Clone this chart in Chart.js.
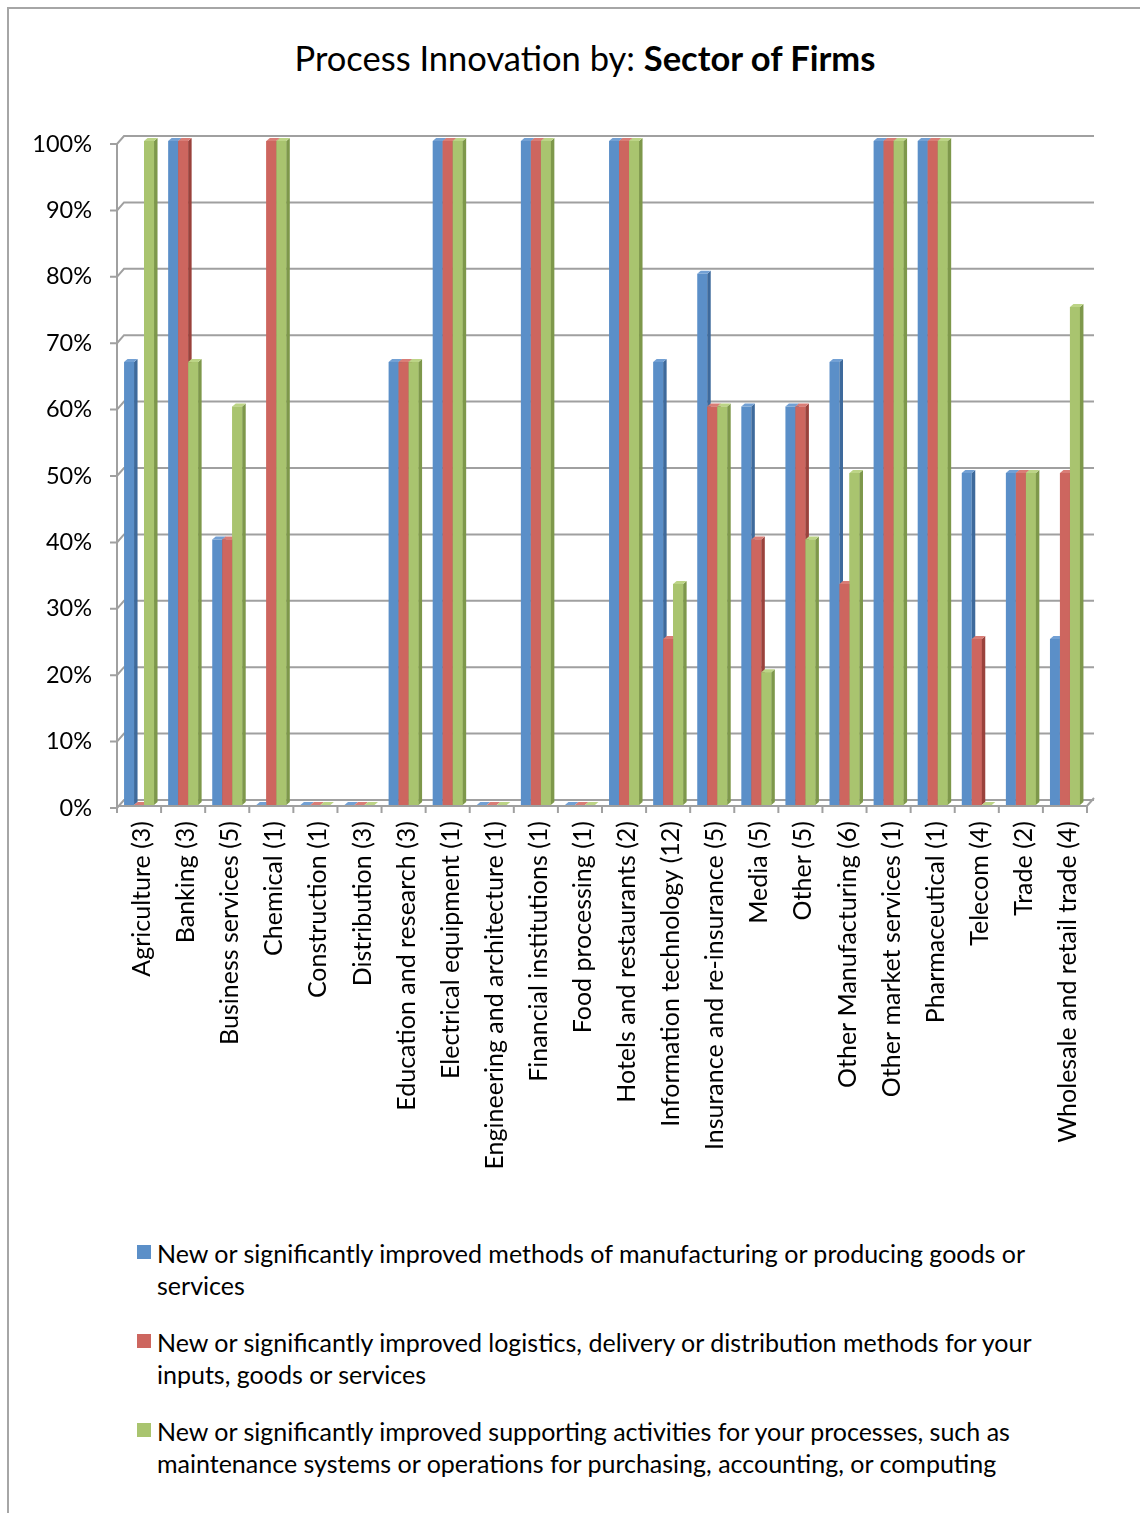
<!DOCTYPE html>
<html>
<head>
<meta charset="utf-8">
<title>Process Innovation by: Sector of Firms</title>
<script src="https://cdn.jsdelivr.net/npm/chart.js@4.4.1/dist/chart.umd.min.js"></script>
<style>
  html, body { margin: 0; padding: 0; background: #fff; }
  body { width: 1140px; height: 1513px; position: relative; overflow: hidden; font-family: Lato, "Open Sans", sans-serif; color: #000; }
  #frame { position: absolute; left: 7px; top: 7px; width: 1200px; height: 1600px; border: 2px solid #a6a6a6; box-sizing: border-box; }
  #title { position: absolute; left: 0; top: 37px; width: 1170px; text-align: center; font-size: 34.5px; line-height: 42px; }
  #wrap { position: absolute; left: 0; top: 0; width: 1140px; height: 1200px; }
  #legend { position: absolute; left: 137px; top: 1237px; }
  .item { position: relative; padding-left: 20px; font-size: 25px; line-height: 32px; margin-bottom: 25px; white-space: nowrap; }
  .swatch { position: absolute; left: 0; top: 8px; width: 14px; height: 14px; }
</style>
</head>
<body>
<div id="frame"></div>
<div id="title">Process Innovation by: <b>Sector of Firms</b></div>
<div id="wrap"><canvas id="chart" width="1140" height="1200"></canvas></div>
<div id="legend"></div>
<script>
/********************
 * Data
 ********************/
const categories = [
  "Agriculture (3)", "Banking (3)", "Business services (5)", "Chemical (1)",
  "Construction (1)", "Distribution (3)", "Education and research (3)",
  "Electrical equipment (1)", "Engineering and architecture (1)",
  "Financial institutions (1)", "Food processing (1)", "Hotels and restaurants (2)",
  "Information technology (12)", "Insurance and re-insurance (5)", "Media (5)",
  "Other (5)", "Other Manufacturing (6)", "Other market services (1)",
  "Pharmaceutical (1)", "Telecom (4)", "Trade (2)", "Wholesale and retail trade (4)"
];

// legend lines, broken where they wrap
const seriesNames = [
  ["New or significantly improved methods of manufacturing or producing goods or", "services"],
  ["New or significantly improved logistics, delivery or distribution methods for your", "inputs, goods or services"],
  ["New or significantly improved supporting activities for your processes, such as", "maintenance systems or operations for purchasing, accounting, or computing"]
];

const manufacturing = [66.7, 100, 40, 0, 0, 0, 66.7, 100, 0, 100, 0, 100, 66.7, 80, 60, 60, 66.7, 100, 100, 50, 50, 25];
const logistics     = [0, 100, 40, 100, 0, 0, 66.7, 100, 0, 100, 0, 100, 25, 60, 40, 60, 33.3, 100, 100, 25, 50, 50];
const supporting    = [100, 66.7, 60, 100, 0, 0, 66.7, 100, 0, 100, 0, 100, 33.3, 60, 20, 40, 50, 100, 100, 0, 50, 75];

const yTicks = [0, 10, 20, 30, 40, 50, 60, 70, 80, 90, 100];

/********************
 * 3D look: walls, floor, bar sides and tops
 ********************/
const GRID = "#a0a0a0";
const WALL = { dx: 7, dy: -8 };   // depth of the back wall
const BAR = { dx: 3.5, dy: -3 };  // depth of a single bar
const FRONT = 3;                  // front edge sits a little below the bar plane

function barBox(bar){
  const { x, y, base, width } = bar.getProps(["x", "y", "base", "width"], true);
  return { l: x - width / 2, r: x + width / 2, y, base };
}

const frame3d = {
  id: "frame3d",
  beforeDatasetsDraw(chart){
    const { ctx, chartArea: a, scales: { y } } = chart;
    ctx.save();
    ctx.strokeStyle = GRID;
    ctx.lineWidth = 2;

    yTicks.forEach(v => {
      const yf = y.getPixelForValue(v) + FRONT;
      ctx.beginPath();
      ctx.moveTo(a.left - 7, yf);
      ctx.lineTo(a.left, yf);
      ctx.lineTo(a.left + WALL.dx, yf + WALL.dy);
      ctx.lineTo(a.right + WALL.dx, yf + WALL.dy);
      ctx.stroke();
    });

    const y0 = y.getPixelForValue(0) + 1;
    const yTop = y.getPixelForValue(100) + FRONT;
    ctx.beginPath();
    ctx.moveTo(a.left, yTop);
    ctx.lineTo(a.left, y0);
    ctx.lineTo(a.right, y0);
    ctx.lineTo(a.right + WALL.dx, y0 + WALL.dy);
    ctx.stroke();

    // category ticks under the floor
    const n = categories.length;
    for(let i = 0; i <= n; i++){
      const xb = a.left + (a.right - a.left) * i / n;
      ctx.beginPath();
      ctx.moveTo(xb, y0);
      ctx.lineTo(xb, y0 + 7);
      ctx.stroke();
    }
    ctx.restore();
  },

  // paint each cluster back to front: side + top of a bar, then the next bar's face over it
  afterDatasetsDraw(chart){
    const { ctx } = chart;
    const metas = chart.data.datasets.map((_, i) => chart.getDatasetMeta(i));
    ctx.save();
    categories.forEach((_, ci) => {
      metas.forEach((meta, di) => {
        const ds = chart.data.datasets[di];
        const b = barBox(meta.data[ci]);

        if(di > 0){
          ctx.fillStyle = ds.backgroundColor;
          ctx.fillRect(b.l, b.y, b.r - b.l, b.base - b.y);
        }

        ctx.fillStyle = ds.sideColor;
        ctx.beginPath();
        ctx.moveTo(b.r, b.y);
        ctx.lineTo(b.r + BAR.dx, b.y + BAR.dy);
        ctx.lineTo(b.r + BAR.dx, b.base + BAR.dy);
        ctx.lineTo(b.r, b.base);
        ctx.closePath();
        ctx.fill();

        ctx.fillStyle = ds.topColor;
        ctx.beginPath();
        ctx.moveTo(b.l, b.y);
        ctx.lineTo(b.l + BAR.dx, b.y + BAR.dy);
        ctx.lineTo(b.r + BAR.dx, b.y + BAR.dy);
        ctx.lineTo(b.r, b.y);
        ctx.closePath();
        ctx.fill();
      });
    });
    ctx.restore();
  }
};

/********************
 * Chart
 ********************/
const palette = [
  { front: "#5b8fc8", side: "#3e6a9c", top: "#72a0d4" },
  { front: "#cd665f", side: "#9a423c", top: "#d97d76" },
  { front: "#a9c46f", side: "#7e984b", top: "#bcd486" }
];
const seriesValues = [manufacturing, logistics, supporting];

const datasets = seriesValues.map((vals, i) => ({
  label: seriesNames[i].join(" "),
  data: vals,
  backgroundColor: palette[i].front,
  sideColor: palette[i].side,
  topColor: palette[i].top,
  borderWidth: 0,
  categoryPercentage: 0.68,
  barPercentage: 1.0
}));

const tickFont = { family: "Lato, 'Open Sans', sans-serif", size: 25 };
const CANVAS_H = 1200;
const PLOT = { left: 117, right: 1087, top: 141, bottom: 805 };

const chart = new Chart(document.getElementById("chart").getContext("2d"), {
  type: "bar",
  data: { labels: categories, datasets },
  options: {
    responsive: false,
    animation: false,
    layout: { padding: { top: PLOT.top, right: 1140 - PLOT.right, left: 0, bottom: 0 } },
    plugins: {
      legend: { display: false },
      title: { display: false },
      tooltip: { enabled: false }
    },
    scales: {
      x: {
        grid: { display: false },
        border: { display: false },
        ticks: {
          font: tickFont,
          color: "#000",
          minRotation: 90,
          maxRotation: 90,
          autoSkip: false,
          padding: 8,
          labelOffset: 3
        },
        afterFit(s){ s.height = CANVAS_H - PLOT.bottom; }
      },
      y: {
        min: 0,
        max: 100,
        grid: { display: false },
        border: { display: false },
        ticks: {
          font: { family: tickFont.family, size: 23.5 },
          color: "#000",
          stepSize: 10,
          padding: 17,
          labelOffset: 3,
          callback: v => v + "%"
        },
        afterFit(s){ s.width = PLOT.left; }
      }
    }
  },
  plugins: [frame3d]
});

// legend below the chart, built from the chart's own datasets
const legendEl = document.getElementById("legend");
chart.data.datasets.forEach((ds, i) => {
  const item = document.createElement("div");
  item.className = "item";
  const sw = document.createElement("span");
  sw.className = "swatch";
  sw.style.background = ds.backgroundColor;
  item.appendChild(sw);
  seriesNames[i].forEach((line, k) => {
    if(k) item.appendChild(document.createElement("br"));
    item.appendChild(document.createTextNode(line));
  });
  legendEl.appendChild(item);
});
</script>
</body>
</html>
